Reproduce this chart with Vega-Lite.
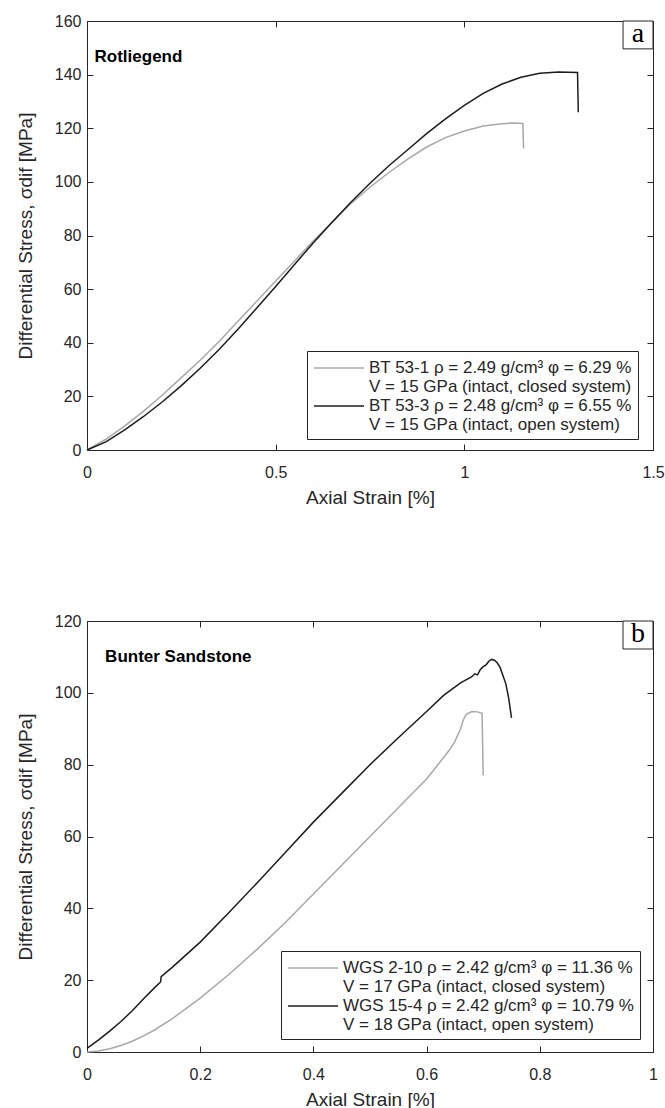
{
  "$schema": "https://vega.github.io/schema/vega-lite/v6.json",
  "background": "white",
  "padding": {"left": 15, "top": 12, "right": 0, "bottom": 0},
  "spacing": 104,
  "config": {
    "font": "Liberation Sans",
    "view": {"stroke": "#262626", "strokeWidth": 1},
    "axis": {
      "domain": false,
      "grid": false,
      "tickSize": -6,
      "tickColor": "#262626",
      "labelFont": "Liberation Sans",
      "labelFontSize": 16,
      "labelColor": "#262626",
      "labelFlush": false,
      "titleFont": "Liberation Sans",
      "titleFontSize": 19,
      "titleFontWeight": "normal",
      "titleColor": "#262626"
    },
    "axisX": {"labelPadding": 20, "titlePadding": 8},
    "axisY": {"labelPadding": 12, "titlePadding": 19},
    "legend": {
      "orient": "none",
      "title": null,
      "symbolType": "M-1,0H4",
      "symbolSize": 400,
      "symbolStrokeWidth": 1.5,
      "labelFont": "Liberation Sans",
      "labelFontSize": 17,
      "labelColor": "#262626",
      "labelLimit": 500,
      "labelOffset": 34,
      "labelBaseline": "middle",
      "strokeColor": "#262626",
      "fillColor": "white",
      "padding": 6,
      "rowPadding": 0
    }
  },
  "resolve": {"scale": {"color": "independent"}, "legend": {"color": "independent"}},
  "datasets": {
    "rotliegend": [
      {"sample": "BT 53-1", "strain": 0, "stress": 0},
      {"sample": "BT 53-1", "strain": 0.05, "stress": 4},
      {"sample": "BT 53-1", "strain": 0.1, "stress": 9},
      {"sample": "BT 53-1", "strain": 0.15, "stress": 14.5},
      {"sample": "BT 53-1", "strain": 0.2, "stress": 20.5},
      {"sample": "BT 53-1", "strain": 0.25, "stress": 27},
      {"sample": "BT 53-1", "strain": 0.3, "stress": 33.5},
      {"sample": "BT 53-1", "strain": 0.35, "stress": 40.5},
      {"sample": "BT 53-1", "strain": 0.4, "stress": 48},
      {"sample": "BT 53-1", "strain": 0.45, "stress": 55.5},
      {"sample": "BT 53-1", "strain": 0.5, "stress": 63},
      {"sample": "BT 53-1", "strain": 0.55, "stress": 70.5},
      {"sample": "BT 53-1", "strain": 0.6, "stress": 78},
      {"sample": "BT 53-1", "strain": 0.65, "stress": 85},
      {"sample": "BT 53-1", "strain": 0.7, "stress": 92},
      {"sample": "BT 53-1", "strain": 0.75, "stress": 98},
      {"sample": "BT 53-1", "strain": 0.8, "stress": 103.5},
      {"sample": "BT 53-1", "strain": 0.85, "stress": 108.5},
      {"sample": "BT 53-1", "strain": 0.9, "stress": 113},
      {"sample": "BT 53-1", "strain": 0.95, "stress": 116.5},
      {"sample": "BT 53-1", "strain": 1.0, "stress": 119},
      {"sample": "BT 53-1", "strain": 1.05, "stress": 120.8},
      {"sample": "BT 53-1", "strain": 1.1, "stress": 121.7},
      {"sample": "BT 53-1", "strain": 1.13, "stress": 122},
      {"sample": "BT 53-1", "strain": 1.155, "stress": 121.8},
      {"sample": "BT 53-1", "strain": 1.157, "stress": 112.5},
      {"sample": "BT 53-3", "strain": 0, "stress": 0},
      {"sample": "BT 53-3", "strain": 0.05, "stress": 3},
      {"sample": "BT 53-3", "strain": 0.1, "stress": 7.5},
      {"sample": "BT 53-3", "strain": 0.15, "stress": 12.5},
      {"sample": "BT 53-3", "strain": 0.2, "stress": 18},
      {"sample": "BT 53-3", "strain": 0.25, "stress": 24},
      {"sample": "BT 53-3", "strain": 0.3, "stress": 30.5},
      {"sample": "BT 53-3", "strain": 0.35, "stress": 37.5},
      {"sample": "BT 53-3", "strain": 0.4, "stress": 45},
      {"sample": "BT 53-3", "strain": 0.45, "stress": 53},
      {"sample": "BT 53-3", "strain": 0.5, "stress": 61},
      {"sample": "BT 53-3", "strain": 0.55, "stress": 69.2},
      {"sample": "BT 53-3", "strain": 0.6, "stress": 77.3},
      {"sample": "BT 53-3", "strain": 0.65, "stress": 85},
      {"sample": "BT 53-3", "strain": 0.7, "stress": 92.5},
      {"sample": "BT 53-3", "strain": 0.75, "stress": 99.5},
      {"sample": "BT 53-3", "strain": 0.8, "stress": 106},
      {"sample": "BT 53-3", "strain": 0.85, "stress": 112},
      {"sample": "BT 53-3", "strain": 0.9, "stress": 118},
      {"sample": "BT 53-3", "strain": 0.95, "stress": 123.5},
      {"sample": "BT 53-3", "strain": 1.0, "stress": 128.5},
      {"sample": "BT 53-3", "strain": 1.05, "stress": 133},
      {"sample": "BT 53-3", "strain": 1.1, "stress": 136.5},
      {"sample": "BT 53-3", "strain": 1.15, "stress": 139},
      {"sample": "BT 53-3", "strain": 1.2, "stress": 140.5},
      {"sample": "BT 53-3", "strain": 1.25, "stress": 141},
      {"sample": "BT 53-3", "strain": 1.3, "stress": 140.8},
      {"sample": "BT 53-3", "strain": 1.302, "stress": 126}
    ],
    "bunter": [
      {"sample": "WGS 2-10", "strain": 0, "stress": 0},
      {"sample": "WGS 2-10", "strain": 0.02, "stress": 0.3},
      {"sample": "WGS 2-10", "strain": 0.04, "stress": 0.9},
      {"sample": "WGS 2-10", "strain": 0.06, "stress": 1.8},
      {"sample": "WGS 2-10", "strain": 0.08, "stress": 3},
      {"sample": "WGS 2-10", "strain": 0.1, "stress": 4.5},
      {"sample": "WGS 2-10", "strain": 0.12, "stress": 6.2},
      {"sample": "WGS 2-10", "strain": 0.15, "stress": 9.2},
      {"sample": "WGS 2-10", "strain": 0.2, "stress": 15},
      {"sample": "WGS 2-10", "strain": 0.25, "stress": 21.5},
      {"sample": "WGS 2-10", "strain": 0.3, "stress": 28.5},
      {"sample": "WGS 2-10", "strain": 0.35, "stress": 36},
      {"sample": "WGS 2-10", "strain": 0.4, "stress": 44},
      {"sample": "WGS 2-10", "strain": 0.45, "stress": 52},
      {"sample": "WGS 2-10", "strain": 0.5, "stress": 60},
      {"sample": "WGS 2-10", "strain": 0.55, "stress": 68},
      {"sample": "WGS 2-10", "strain": 0.6, "stress": 76},
      {"sample": "WGS 2-10", "strain": 0.62, "stress": 80},
      {"sample": "WGS 2-10", "strain": 0.64, "stress": 84},
      {"sample": "WGS 2-10", "strain": 0.65, "stress": 86.5},
      {"sample": "WGS 2-10", "strain": 0.66, "stress": 90},
      {"sample": "WGS 2-10", "strain": 0.665, "stress": 92.5},
      {"sample": "WGS 2-10", "strain": 0.67, "stress": 94},
      {"sample": "WGS 2-10", "strain": 0.68, "stress": 94.8},
      {"sample": "WGS 2-10", "strain": 0.69, "stress": 94.7},
      {"sample": "WGS 2-10", "strain": 0.698, "stress": 94.3},
      {"sample": "WGS 2-10", "strain": 0.7, "stress": 77},
      {"sample": "WGS 15-4", "strain": 0, "stress": 1},
      {"sample": "WGS 15-4", "strain": 0.02, "stress": 3.3},
      {"sample": "WGS 15-4", "strain": 0.04, "stress": 5.8},
      {"sample": "WGS 15-4", "strain": 0.06, "stress": 8.5},
      {"sample": "WGS 15-4", "strain": 0.08, "stress": 11.5},
      {"sample": "WGS 15-4", "strain": 0.1, "stress": 14.8},
      {"sample": "WGS 15-4", "strain": 0.12, "stress": 18},
      {"sample": "WGS 15-4", "strain": 0.13, "stress": 19.5},
      {"sample": "WGS 15-4", "strain": 0.131, "stress": 21},
      {"sample": "WGS 15-4", "strain": 0.15, "stress": 23.5},
      {"sample": "WGS 15-4", "strain": 0.2, "stress": 30.6},
      {"sample": "WGS 15-4", "strain": 0.25, "stress": 38.7},
      {"sample": "WGS 15-4", "strain": 0.3, "stress": 47},
      {"sample": "WGS 15-4", "strain": 0.35, "stress": 55.5},
      {"sample": "WGS 15-4", "strain": 0.4, "stress": 64},
      {"sample": "WGS 15-4", "strain": 0.45, "stress": 72},
      {"sample": "WGS 15-4", "strain": 0.5, "stress": 80},
      {"sample": "WGS 15-4", "strain": 0.55, "stress": 87.5},
      {"sample": "WGS 15-4", "strain": 0.6, "stress": 94.8},
      {"sample": "WGS 15-4", "strain": 0.63, "stress": 99.3},
      {"sample": "WGS 15-4", "strain": 0.66, "stress": 102.8},
      {"sample": "WGS 15-4", "strain": 0.68, "stress": 104.5},
      {"sample": "WGS 15-4", "strain": 0.685, "stress": 105.3},
      {"sample": "WGS 15-4", "strain": 0.69, "stress": 105},
      {"sample": "WGS 15-4", "strain": 0.695, "stress": 106.5},
      {"sample": "WGS 15-4", "strain": 0.7, "stress": 107.3},
      {"sample": "WGS 15-4", "strain": 0.705, "stress": 107.8},
      {"sample": "WGS 15-4", "strain": 0.71, "stress": 108.8},
      {"sample": "WGS 15-4", "strain": 0.715, "stress": 109.3},
      {"sample": "WGS 15-4", "strain": 0.72, "stress": 109.1},
      {"sample": "WGS 15-4", "strain": 0.725, "stress": 108.3},
      {"sample": "WGS 15-4", "strain": 0.73, "stress": 107},
      {"sample": "WGS 15-4", "strain": 0.74, "stress": 102.5},
      {"sample": "WGS 15-4", "strain": 0.745, "stress": 98.5},
      {"sample": "WGS 15-4", "strain": 0.75, "stress": 93}
    ]
  },
  "vconcat": [
    {
      "width": 566,
      "height": 429,
      "resolve": {"axis": {"x": "independent", "y": "independent"}},
      "layer": [
        {
          "data": {"name": "rotliegend"},
          "mark": {"type": "line", "strokeWidth": 1.5},
          "encoding": {
            "x": {"field": "strain", "type": "quantitative", "scale": {"domain": [0, 1.5], "nice": false},
                  "axis": {"values": [0, 0.5, 1, 1.5], "labelExpr": "'' + datum.value", "title": "Axial Strain [%]"}},
            "y": {"field": "stress", "type": "quantitative", "scale": {"domain": [0, 160], "nice": false},
                  "axis": {"values": [0, 20, 40, 60, 80, 100, 120, 140, 160], "labelExpr": "'' + datum.value", "title": "Differential Stress, σdif [MPa]"}},
            "color": {"field": "sample", "type": "nominal",
                      "scale": {"domain": ["BT 53-1", "BT 53-3"], "range": ["#a8a8a8", "#1c1c1c"]},
                      "legend": {"legendX": 220, "legendY": 330,
                                 "labelExpr": "datum.label == 'BT 53-1' ? ['BT 53-1 ρ = 2.49 g/cm³ φ = 6.29 %', 'V = 15 GPa (intact, closed system)'] : ['BT 53-3 ρ = 2.48 g/cm³ φ = 6.55 %', 'V = 15 GPa (intact, open system)']",
                                 "encode": {"labels": {"update": {"lineHeight": {"value": 19}}}}}}
          }
        },
        {
          "data": {"values": [{}]},
          "mark": {"type": "text", "align": "left", "baseline": "middle", "fontSize": 17, "fontWeight": "bold", "color": "black"},
          "encoding": {
            "x": {"datum": 0.02, "type": "quantitative",
                  "axis": {"orient": "top", "labels": false, "title": null, "values": [0, 0.5, 1, 1.5]}},
            "y": {"datum": 146.5, "type": "quantitative",
                  "axis": {"orient": "right", "labels": false, "title": null, "values": [0, 20, 40, 60, 80, 100, 120, 140, 160]}},
            "text": {"value": "Rotliegend"}
          }
        },
        {
          "data": {"values": [{}]},
          "mark": {"type": "rect", "fill": "white", "stroke": "#262626", "strokeWidth": 1},
          "encoding": {
            "x": {"datum": 1.4206, "type": "quantitative", "axis": null},
            "x2": {"datum": 1.5},
            "y": {"datum": 160, "type": "quantitative", "axis": null},
            "y2": {"datum": 149.6}
          }
        },
        {
          "data": {"values": [{}]},
          "mark": {"type": "text", "align": "center", "baseline": "middle", "font": "Liberation Serif", "fontSize": 28, "color": "black", "dy": -1},
          "encoding": {
            "x": {"datum": 1.4603, "type": "quantitative", "axis": null},
            "y": {"datum": 154.8, "type": "quantitative", "axis": null},
            "text": {"value": "a"}
          }
        }
      ]
    },
    {
      "width": 566,
      "height": 431,
      "resolve": {"axis": {"x": "independent", "y": "independent"}},
      "layer": [
        {
          "data": {"name": "bunter"},
          "mark": {"type": "line", "strokeWidth": 1.5},
          "encoding": {
            "x": {"field": "strain", "type": "quantitative", "scale": {"domain": [0, 1], "nice": false},
                  "axis": {"values": [0, 0.2, 0.4, 0.6, 0.8, 1], "labelExpr": "'' + datum.value", "title": "Axial Strain [%]"}},
            "y": {"field": "stress", "type": "quantitative", "scale": {"domain": [0, 120], "nice": false},
                  "axis": {"values": [0, 20, 40, 60, 80, 100, 120], "labelExpr": "'' + datum.value", "title": "Differential Stress, σdif [MPa]"}},
            "color": {"field": "sample", "type": "nominal",
                      "scale": {"domain": ["WGS 2-10", "WGS 15-4"], "range": ["#a8a8a8", "#1c1c1c"]},
                      "legend": {"legendX": 194, "legendY": 330,
                                 "labelExpr": "datum.label == 'WGS 2-10' ? ['WGS 2-10 ρ = 2.42 g/cm³ φ = 11.36 %', 'V = 17 GPa (intact, closed system)'] : ['WGS 15-4 ρ = 2.42 g/cm³ φ = 10.79 %', 'V = 18 GPa (intact, open system)']",
                                 "encode": {"labels": {"update": {"lineHeight": {"value": 19}}}}}}
          }
        },
        {
          "data": {"values": [{}]},
          "mark": {"type": "text", "align": "left", "baseline": "middle", "fontSize": 17, "fontWeight": "bold", "color": "black"},
          "encoding": {
            "x": {"datum": 0.032, "type": "quantitative",
                  "axis": {"orient": "top", "labels": false, "title": null, "values": [0, 0.2, 0.4, 0.6, 0.8, 1]}},
            "y": {"datum": 110, "type": "quantitative",
                  "axis": {"orient": "right", "labels": false, "title": null, "values": [0, 20, 40, 60, 80, 100, 120]}},
            "text": {"value": "Bunter Sandstone"}
          }
        },
        {
          "data": {"values": [{}]},
          "mark": {"type": "rect", "fill": "white", "stroke": "#262626", "strokeWidth": 1},
          "encoding": {
            "x": {"datum": 0.947, "type": "quantitative", "axis": null},
            "x2": {"datum": 1},
            "y": {"datum": 120, "type": "quantitative", "axis": null},
            "y2": {"datum": 112.2}
          }
        },
        {
          "data": {"values": [{}]},
          "mark": {"type": "text", "align": "center", "baseline": "middle", "font": "Liberation Serif", "fontSize": 28, "color": "black", "dy": -1},
          "encoding": {
            "x": {"datum": 0.9735, "type": "quantitative", "axis": null},
            "y": {"datum": 116.1, "type": "quantitative", "axis": null},
            "text": {"value": "b"}
          }
        }
      ]
    }
  ]
}
